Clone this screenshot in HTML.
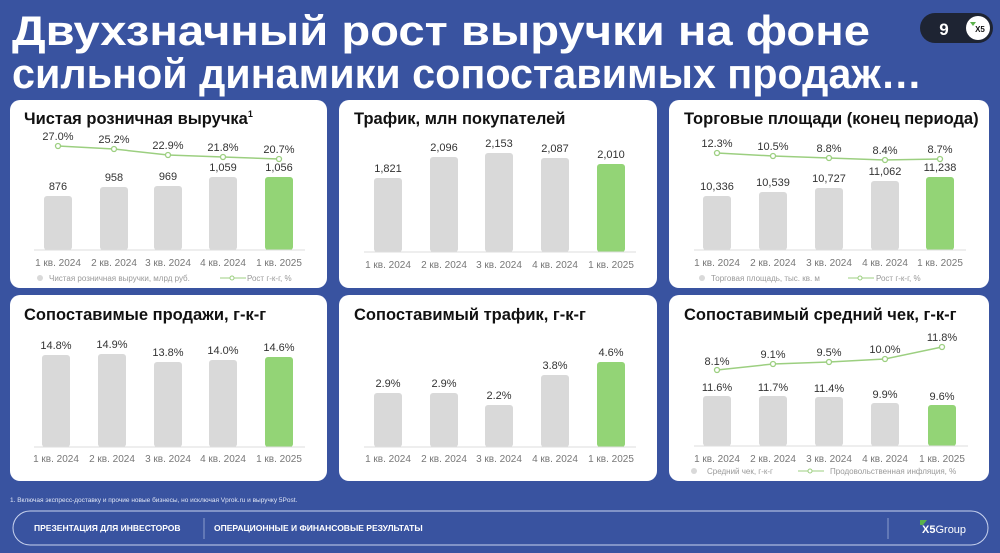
<!DOCTYPE html>
<html><head><meta charset="utf-8"><style>
html,body{margin:0;padding:0;background:#3953a0;}
svg{display:block;font-family:"Liberation Sans","DejaVu Sans",sans-serif;}
</style></head><body>
<svg width="1000" height="553" viewBox="0 0 1000 553" xmlns="http://www.w3.org/2000/svg">
<rect width="1000" height="553" fill="#3953a0"/>
<text x="12" y="45" fill="#fff" font-size="42" font-weight="bold" textLength="858" lengthAdjust="spacingAndGlyphs">Двухзначный рост выручки на фоне</text>
<text x="12" y="88" fill="#fff" font-size="42" font-weight="bold" textLength="910" lengthAdjust="spacingAndGlyphs">сильной динамики сопоставимых продаж…</text>
<rect x="920" y="13" width="73" height="30" rx="15" fill="#1e2433"/>
<text x="944" y="35" fill="#fff" font-size="17" font-weight="bold" text-anchor="middle">9</text>
<circle cx="978" cy="28" r="12" fill="#fff"/>
<text x="980" y="32" fill="#111" font-size="8" font-weight="bold" text-anchor="middle">X5</text>
<path d="M970 22 l6 0 l-3 4z" fill="#5bb14a"/>

<g fill="#fff">
<rect x="10" y="100" width="317" height="188" rx="10"/>
<rect x="339" y="100" width="318" height="188" rx="10"/>
<rect x="669" y="100" width="320" height="188" rx="10"/>
<rect x="10" y="295" width="317" height="186" rx="10"/>
<rect x="339" y="295" width="318" height="186" rx="10"/>
<rect x="669" y="295" width="320" height="186" rx="10"/>
</g>

<g font-size="16.5" font-weight="bold" fill="#111">
<text x="24" y="124">Чистая розничная выручка<tspan font-size="9" dy="-7">1</tspan></text>
<text x="354" y="124">Трафик, млн покупателей</text>
<text x="684" y="124">Торговые площади (конец периода)</text>
<text x="24" y="320">Сопоставимые продажи, г-к-г</text>
<text x="354" y="320">Сопоставимый трафик, г-к-г</text>
<text x="684" y="320">Сопоставимый средний чек, г-к-г</text>
</g>

<!-- Panel 1 -->
<g fill="#d9d9d9">
<rect x="44" y="196" width="28" height="54" rx="3"/>
<rect x="100" y="187" width="28" height="63" rx="3"/>
<rect x="154" y="186" width="28" height="64" rx="3"/>
<rect x="209" y="177" width="28" height="73" rx="3"/>
<rect x="265" y="177" width="28" height="73" rx="3" fill="#93d476"/>
</g>
<line x1="34" y1="250" x2="305" y2="250" stroke="#ddd" stroke-width="1"/>
<polyline points="58,146 114,149 168,155 223,157 279,159" fill="none" stroke="#9ccf80" stroke-width="1.5"/>
<g fill="#fff" stroke="#9ccf80" stroke-width="1.3">
<circle cx="58" cy="146" r="2.5"/><circle cx="114" cy="149" r="2.5"/><circle cx="168" cy="155" r="2.5"/><circle cx="223" cy="157" r="2.5"/><circle cx="279" cy="159" r="2.5"/></g>
<g font-size="11" fill="#333" text-anchor="middle">
<text x="58" y="140">27.0%</text><text x="114" y="143">25.2%</text><text x="168" y="149">22.9%</text><text x="223" y="151">21.8%</text><text x="279" y="153">20.7%</text>
<text x="58" y="190">876</text><text x="114" y="181">958</text><text x="168" y="180">969</text><text x="223" y="171">1,059</text><text x="279" y="171">1,056</text>
</g>
<g font-size="10" fill="#777" text-anchor="middle">
<text x="58" y="266">1 кв. 2024</text><text x="114" y="266">2 кв. 2024</text><text x="168" y="266">3 кв. 2024</text><text x="223" y="266">4 кв. 2024</text><text x="279" y="266">1 кв. 2025</text>
</g>
<circle cx="40" cy="278" r="3" fill="#d9d9d9"/>
<text x="49" y="281" font-size="8" fill="#999">Чистая розничная выручки, млрд руб.</text>
<line x1="220" y1="278" x2="246" y2="278" stroke="#9ccf80"/><circle cx="232" cy="278" r="2" fill="#fff" stroke="#9ccf80"/>
<text x="247" y="281" font-size="8" fill="#999">Рост г-к-г, %</text>

<!-- Panel 2 -->
<g fill="#d9d9d9">
<rect x="374" y="178" width="28" height="74" rx="3"/>
<rect x="430" y="157" width="28" height="95" rx="3"/>
<rect x="485" y="153" width="28" height="99" rx="3"/>
<rect x="541" y="158" width="28" height="94" rx="3"/>
<rect x="597" y="164" width="28" height="88" rx="3" fill="#93d476"/>
</g>
<line x1="364" y1="252" x2="636" y2="252" stroke="#ddd"/>
<g font-size="11" fill="#333" text-anchor="middle">
<text x="388" y="172">1,821</text><text x="444" y="151">2,096</text><text x="499" y="147">2,153</text><text x="555" y="152">2,087</text><text x="611" y="158">2,010</text>
</g>
<g font-size="10" fill="#777" text-anchor="middle">
<text x="388" y="268">1 кв. 2024</text><text x="444" y="268">2 кв. 2024</text><text x="499" y="268">3 кв. 2024</text><text x="555" y="268">4 кв. 2024</text><text x="611" y="268">1 кв. 2025</text>
</g>

<!-- Panel 3 -->
<g fill="#d9d9d9">
<rect x="703" y="196" width="28" height="54" rx="3"/>
<rect x="759" y="192" width="28" height="58" rx="3"/>
<rect x="815" y="188" width="28" height="62" rx="3"/>
<rect x="871" y="181" width="28" height="69" rx="3"/>
<rect x="926" y="177" width="28" height="73" rx="3" fill="#93d476"/>
</g>
<line x1="694" y1="250" x2="966" y2="250" stroke="#ddd"/>
<polyline points="717,153 773,156 829,158 885,160 940,159" fill="none" stroke="#9ccf80" stroke-width="1.5"/>
<g fill="#fff" stroke="#9ccf80" stroke-width="1.3">
<circle cx="717" cy="153" r="2.5"/><circle cx="773" cy="156" r="2.5"/><circle cx="829" cy="158" r="2.5"/><circle cx="885" cy="160" r="2.5"/><circle cx="940" cy="159" r="2.5"/></g>
<g font-size="11" fill="#333" text-anchor="middle">
<text x="717" y="147">12.3%</text><text x="773" y="150">10.5%</text><text x="829" y="152">8.8%</text><text x="885" y="154">8.4%</text><text x="940" y="153">8.7%</text>
<text x="717" y="190">10,336</text><text x="773" y="186">10,539</text><text x="829" y="182">10,727</text><text x="885" y="175">11,062</text><text x="940" y="171">11,238</text>
</g>
<g font-size="10" fill="#777" text-anchor="middle">
<text x="717" y="266">1 кв. 2024</text><text x="773" y="266">2 кв. 2024</text><text x="829" y="266">3 кв. 2024</text><text x="885" y="266">4 кв. 2024</text><text x="940" y="266">1 кв. 2025</text>
</g>
<circle cx="702" cy="278" r="3" fill="#d9d9d9"/>
<text x="711" y="281" font-size="8" fill="#999">Торговая площадь, тыс. кв. м</text>
<line x1="848" y1="278" x2="874" y2="278" stroke="#9ccf80"/><circle cx="860" cy="278" r="2" fill="#fff" stroke="#9ccf80"/>
<text x="876" y="281" font-size="8" fill="#999">Рост г-к-г, %</text>

<!-- Panel 4 -->
<g fill="#d9d9d9">
<rect x="42" y="355" width="28" height="92" rx="3"/>
<rect x="98" y="354" width="28" height="93" rx="3"/>
<rect x="154" y="362" width="28" height="85" rx="3"/>
<rect x="209" y="360" width="28" height="87" rx="3"/>
<rect x="265" y="357" width="28" height="90" rx="3" fill="#93d476"/>
</g>
<line x1="34" y1="447" x2="305" y2="447" stroke="#ddd"/>
<g font-size="11" fill="#333" text-anchor="middle">
<text x="56" y="349">14.8%</text><text x="112" y="348">14.9%</text><text x="168" y="356">13.8%</text><text x="223" y="354">14.0%</text><text x="279" y="351">14.6%</text>
</g>
<g font-size="10" fill="#777" text-anchor="middle">
<text x="56" y="462">1 кв. 2024</text><text x="112" y="462">2 кв. 2024</text><text x="168" y="462">3 кв. 2024</text><text x="223" y="462">4 кв. 2024</text><text x="279" y="462">1 кв. 2025</text>
</g>

<!-- Panel 5 -->
<g fill="#d9d9d9">
<rect x="374" y="393" width="28" height="54" rx="3"/>
<rect x="430" y="393" width="28" height="54" rx="3"/>
<rect x="485" y="405" width="28" height="42" rx="3"/>
<rect x="541" y="375" width="28" height="72" rx="3"/>
<rect x="597" y="362" width="28" height="85" rx="3" fill="#93d476"/>
</g>
<line x1="364" y1="447" x2="636" y2="447" stroke="#ddd"/>
<g font-size="11" fill="#333" text-anchor="middle">
<text x="388" y="387">2.9%</text><text x="444" y="387">2.9%</text><text x="499" y="399">2.2%</text><text x="555" y="369">3.8%</text><text x="611" y="356">4.6%</text>
</g>
<g font-size="10" fill="#777" text-anchor="middle">
<text x="388" y="462">1 кв. 2024</text><text x="444" y="462">2 кв. 2024</text><text x="499" y="462">3 кв. 2024</text><text x="555" y="462">4 кв. 2024</text><text x="611" y="462">1 кв. 2025</text>
</g>

<!-- Panel 6 -->
<g fill="#d9d9d9">
<rect x="703" y="396" width="28" height="50" rx="3"/>
<rect x="759" y="396" width="28" height="50" rx="3"/>
<rect x="815" y="397" width="28" height="49" rx="3"/>
<rect x="871" y="403" width="28" height="43" rx="3"/>
<rect x="928" y="405" width="28" height="41" rx="3" fill="#93d476"/>
</g>
<line x1="694" y1="446" x2="968" y2="446" stroke="#ddd"/>
<polyline points="717,370 773,364 829,362 885,359 942,347" fill="none" stroke="#9ccf80" stroke-width="1.5"/>
<g fill="#fff" stroke="#9ccf80" stroke-width="1.3">
<circle cx="717" cy="370" r="2.5"/><circle cx="773" cy="364" r="2.5"/><circle cx="829" cy="362" r="2.5"/><circle cx="885" cy="359" r="2.5"/><circle cx="942" cy="347" r="2.5"/></g>
<g font-size="11" fill="#333" text-anchor="middle">
<text x="717" y="365">8.1%</text><text x="773" y="358">9.1%</text><text x="829" y="356">9.5%</text><text x="885" y="353">10.0%</text><text x="942" y="341">11.8%</text>
<text x="717" y="391">11.6%</text><text x="773" y="391">11.7%</text><text x="829" y="392">11.4%</text><text x="885" y="398">9.9%</text><text x="942" y="400">9.6%</text>
</g>
<g font-size="10" fill="#777" text-anchor="middle">
<text x="717" y="462">1 кв. 2024</text><text x="773" y="462">2 кв. 2024</text><text x="829" y="462">3 кв. 2024</text><text x="885" y="462">4 кв. 2024</text><text x="942" y="462">1 кв. 2025</text>
</g>
<circle cx="694" cy="471" r="3" fill="#d9d9d9"/>
<text x="707" y="474" font-size="8" fill="#999">Средний чек, г-к-г</text>
<line x1="798" y1="471" x2="824" y2="471" stroke="#9ccf80"/><circle cx="810" cy="471" r="2" fill="#fff" stroke="#9ccf80"/>
<text x="830" y="474" font-size="8" fill="#999">Продовольственная инфляция, %</text>

<!-- footer -->
<text x="10" y="502" font-size="6.5" fill="#dfe5f5">1. Включая экспресс-доставку и прочие новые бизнесы, но исключая Vprok.ru и выручку 5Post.</text>
<rect x="13" y="511" width="975" height="34" rx="17" fill="none" stroke="#c9d3ee" stroke-width="1"/>
<text x="34" y="531" font-size="8.5" font-weight="bold" fill="#fff">ПРЕЗЕНТАЦИЯ ДЛЯ ИНВЕСТОРОВ</text>
<line x1="204" y1="518" x2="204" y2="539" stroke="#8a9ccc"/>
<text x="214" y="531" font-size="8.5" font-weight="bold" fill="#fff">ОПЕРАЦИОННЫЕ И ФИНАНСОВЫЕ РЕЗУЛЬТАТЫ</text>
<line x1="888" y1="518" x2="888" y2="539" stroke="#8a9ccc"/>
<path d="M920 520 l7 0 l-4 5 l-3 0z" fill="#5bb14a"/>
<text x="922" y="533" font-size="11" fill="#fff"><tspan font-weight="bold">X5</tspan>Group</text>
</svg>
</body></html>
